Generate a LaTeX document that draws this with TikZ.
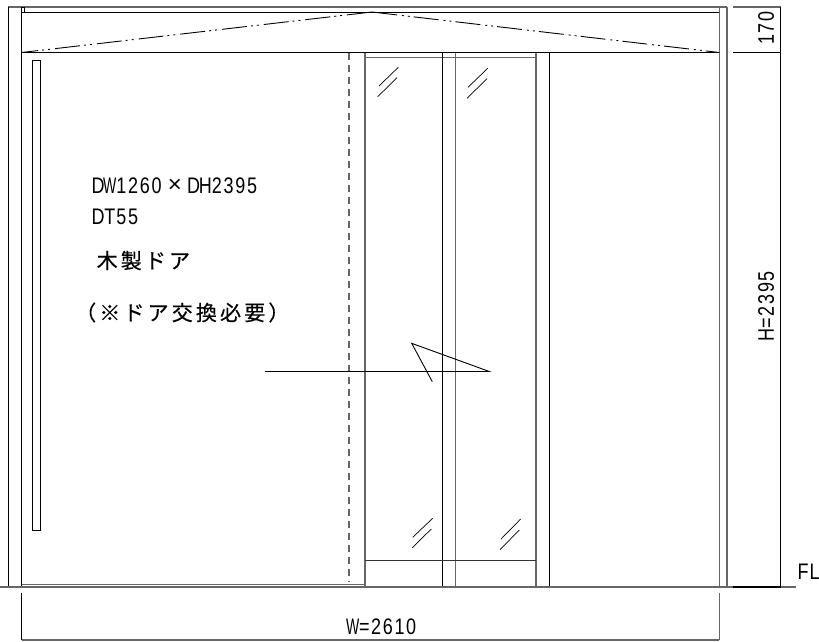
\documentclass[tikz,border=0pt]{standalone}
\usepackage{graphicx}
\usepackage{fontspec}
\setmainfont{Liberation Sans}
\newfontfamily\latinfont[FakeStretch=0.8]{Liberation Sans}
\newfontfamily\cjkfont[LetterSpace=15,FakeBold=0.4]{Noto Sans CJK JP}
\newcommand\fixedcells[1]{\fixedcellsaux#1\relax}
\def\fixedcellsaux#1{\ifx#1\relax\else\makebox[11.7pt]{#1}\expandafter\fixedcellsaux\fi}
\newcommand\narrowW{\scalebox{0.78}[1]{W}}
\tikzset{
  ln/.style={draw=black,line width=0.9pt},
  lg/.style={draw=black!60,line width=1.1pt},
  thin line/.style={draw=black,line width=0.7pt},
  dashdot/.style={draw=black,line width=0.9pt,dash pattern=on 25pt off 5pt on 2pt off 4pt on 2pt off 4pt},
  hidden/.style={draw=black!60,line width=1.1pt,dash pattern=on 7pt off 5pt},
  lat/.style={inner sep=0pt,font=\fontsize{22.5}{23}\selectfont\latinfont,text=black},
  jp/.style={inner sep=0pt,font=\fontsize{21}{22}\selectfont\cjkfont,text=black}
}
\begin{document}
\begin{tikzpicture}[x=1pt,y=-1pt]
\useasboundingbox (0,0) rectangle (819,641);
% outer frame
\draw[lg] (8,7) -- (727,7);
\draw[ln] (8,7) -- (8,587);
\draw[ln] (21.5,7) -- (21.5,587);
\draw[ln,line width=0.7pt] (21.5,7) rectangle (24.5,12.5);
\draw[ln] (21.5,12.5) -- (719.3,12.5);
\draw[ln] (21.5,52.5) -- (719.3,52.5);
\draw[lg] (719.3,7) -- (719.3,587);
\draw[lg] (727,7) -- (727,587);
% fanlight
\draw[dashdot] (372,12) -- (21.5,52.5);
\draw[dashdot] (372,12) -- (719.3,52.5);
% door
\draw[ln] (32.5,60.5) rectangle (40.5,530.5);
\draw[hidden] (349,52.5) -- (349,581);
\draw[lg] (365,52.5) -- (365,587);
\draw[lg] (365,57.5) -- (536,57.5);
\draw[ln] (442.7,52.5) -- (442.7,587);
\draw[lg] (455.7,52.5) -- (455.7,587);
\draw[lg] (536,52.5) -- (536,587);
\draw[ln] (549.5,52.5) -- (549.5,587);
\draw[ln,draw=black!80] (365,560) -- (536,560);
\draw[lg,line width=0.8pt] (21.5,584.5) -- (365,584.5);
% floor
\draw[lg] (0,587) -- (796,587);
% glass marks
\draw[thin line] (379,86) -- (398.3,67.3) (377.7,96.7) -- (397,77.7);
\draw[thin line] (468,87.3) -- (487.7,68.3) (467,98.3) -- (487,78.7);
\draw[thin line] (412.7,537.3) -- (432.7,518.3) (412.3,547.7) -- (431.3,529);
\draw[thin line] (501,539) -- (520.7,519) (500,549.7) -- (519.3,530);
% opening symbol
\draw[ln] (265,371.5) -- (489.3,371.5) -- (411.7,343.3) -- (432.3,381.7);
% dimensions
\draw[lg] (733,7) -- (780.7,7);
\draw[ln] (733,52.5) -- (780.7,52.5);
\draw[ln] (780.7,7) -- (780.7,587);
\draw[ln,line width=1.3pt] (733,587) -- (780.7,587);
\draw[ln] (21.5,593) -- (21.5,640);
\draw[lg] (719.3,593) -- (719.3,640);
\draw[lg] (21.5,640) -- (719.3,640);
% labels
\node[lat,anchor=west] (dw) at (92,186) {\fixedcells{D{\narrowW}1260}};
\node[inner sep=0pt,font=\fontsize{24}{24}\selectfont,text=black] (times) at (175,186) {×};
\node[lat,anchor=west] (dh) at (187.5,186) {\fixedcells{DH2395}};
\node[lat,anchor=west] (dt) at (92,217) {\fixedcells{DT55}};
\node[jp,anchor=west] (wood) at (96.5,260.5) {木製ドア};
\node[jp,anchor=west] (note) at (75,312.5) {（※ドア交換必要）};
\node[lat,rotate=90] (h170) at (766,28) {\fixedcells{170}};
\node[lat,rotate=90] (h2395) at (766,305.5) {\fixedcells{H=2395}};
\node[lat] (w) at (382,626.5) {\fixedcells{{\narrowW}=2610}};
\node[lat,anchor=west] (fl) at (797,571.5) {\fixedcells{FL}};
\end{tikzpicture}
\end{document}
